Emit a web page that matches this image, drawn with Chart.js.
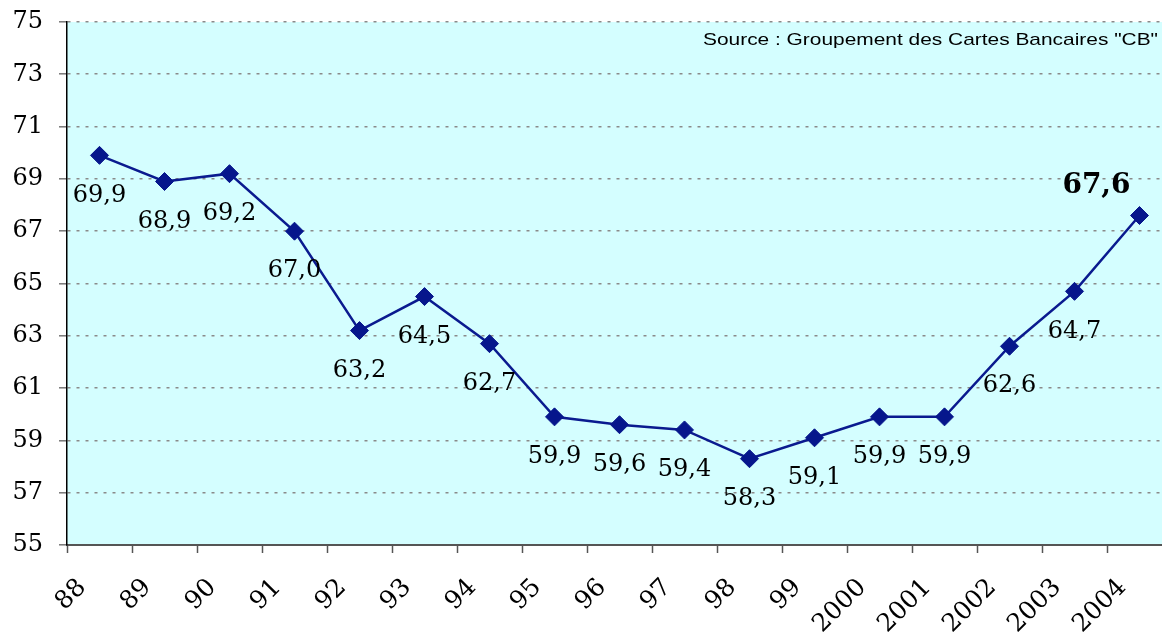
<!DOCTYPE html>
<html>
<head>
<meta charset="utf-8">
<script src="https://cdn.jsdelivr.net/npm/chart.js@4.4.1/dist/chart.umd.min.js"></script>
<style>
  html, body { margin: 0; padding: 0; background: #ffffff; overflow: hidden; }
  #wrap { width: 1162px; height: 634px; overflow: hidden; }
</style>
</head>
<body>
<div id="wrap"><canvas id="c" width="1182" height="634"></canvas></div>
<script>
const categories = ['88','89','90','91','92','93','94','95','96','97','98','99','2000','2001','2002','2003','2004'];
const values = [69.9, 68.9, 69.2, 67.0, 63.2, 64.5, 62.7, 59.9, 59.6, 59.4, 58.3, 59.1, 59.9, 59.9, 62.6, 64.7, 67.6];
const yMin = 55, yMax = 75, yStep = 2;
const sourceText = 'Source : Groupement des Cartes Bancaires "CB"';

const SERIF = '"DejaVu Serif", "Liberation Serif", serif';

const bgPlugin = {
  id: 'bg',
  beforeDraw(chart) {
    const {ctx, chartArea: a} = chart;
    ctx.save();
    ctx.fillStyle = '#D4FEFF';
    ctx.fillRect(a.left, a.top, a.right - a.left, a.bottom - a.top);
    ctx.restore();
  }
};

const labelPlugin = {
  id: 'labels',
  afterDatasetsDraw(chart) {
    const ctx = chart.ctx;
    const meta = chart.getDatasetMeta(0);
    const last = values.length - 1;
    ctx.save();
    ctx.fillStyle = '#000';
    ctx.textAlign = 'center';
    ctx.textBaseline = 'middle';
    meta.data.forEach((pt, i) => {
      const txt = values[i].toFixed(1).replace('.', ',');
      if (i === last) {
        ctx.font = 'bold 28px ' + SERIF;
        ctx.fillText(txt, pt.x - 43, pt.y - 30);
      } else {
        ctx.font = '24px ' + SERIF;
        ctx.fillText(txt, pt.x, pt.y + 40);
      }
    });
    ctx.restore();

    // source note
    const a = chart.chartArea;
    ctx.save();
    ctx.fillStyle = '#000';
    ctx.font = '17px "Liberation Sans", Arial, sans-serif';
    ctx.textAlign = 'right';
    ctx.textBaseline = 'middle';
    const w = ctx.measureText(sourceText).width;
    const sx = 455 / w;
    const rightX = 1158;
    ctx.translate(rightX, a.top + 18);
    ctx.scale(sx, 1);
    ctx.fillText(sourceText, 0, 0);
    ctx.restore();
  }
};

new Chart(document.getElementById('c'), {
  type: 'line',
  data: {
    labels: categories,
    datasets: [{
      data: values,
      borderColor: '#0A1A8F',
      backgroundColor: '#0A1A8F',
      borderWidth: 2.5,
      pointStyle: 'rectRot',
      pointRadius: 9,
      pointHoverRadius: 9,
      pointBorderWidth: 1,
      pointBackgroundColor: '#06168C',
      pointBorderColor: '#06168C',
      tension: 0,
      fill: false
    }]
  },
  options: {
    responsive: false,
    animation: false,
    events: [],
    layout: { padding: { top: 22, right: -11, left: 0, bottom: 0 } },
    plugins: { legend: { display: false }, tooltip: { enabled: false } },
    scales: {
      x: {
        offset: true,
        grid: {
          offset: true,
          drawOnChartArea: false,
          drawTicks: true,
          tickLength: 8,
          tickColor: '#555',
          tickWidth: 1.5
        },
        border: { display: true, color: '#555', width: 2 },
        ticks: {
          minRotation: 45,
          maxRotation: 45,
          autoSkip: false,
          labelOffset: -17,
          padding: 20,
          color: '#000',
          font: { family: SERIF, size: 25 }
        },
        afterFit(scale) { scale.height = 89; scale.paddingLeft = 0; scale.paddingRight = 0; }
      },
      y: {
        min: yMin,
        max: yMax,
        grid: {
          color: '#8a8a8a',
          lineWidth: 1.6,
          tickLength: 8,
          tickColor: '#777',
          tickWidth: 1.5,
          tickBorderDash: []
        },
        border: { display: true, color: '#000', width: 1.5, dash: [3, 6] },
        ticks: {
          stepSize: yStep,
          padding: 16,
          color: '#000',
          font: { family: SERIF, size: 24 }
        },
        afterFit(scale) { scale.width = 67; scale.paddingTop = 0; scale.paddingBottom = 0; }
      }
    }
  },
  plugins: [bgPlugin, labelPlugin]
});
</script>
</body>
</html>
